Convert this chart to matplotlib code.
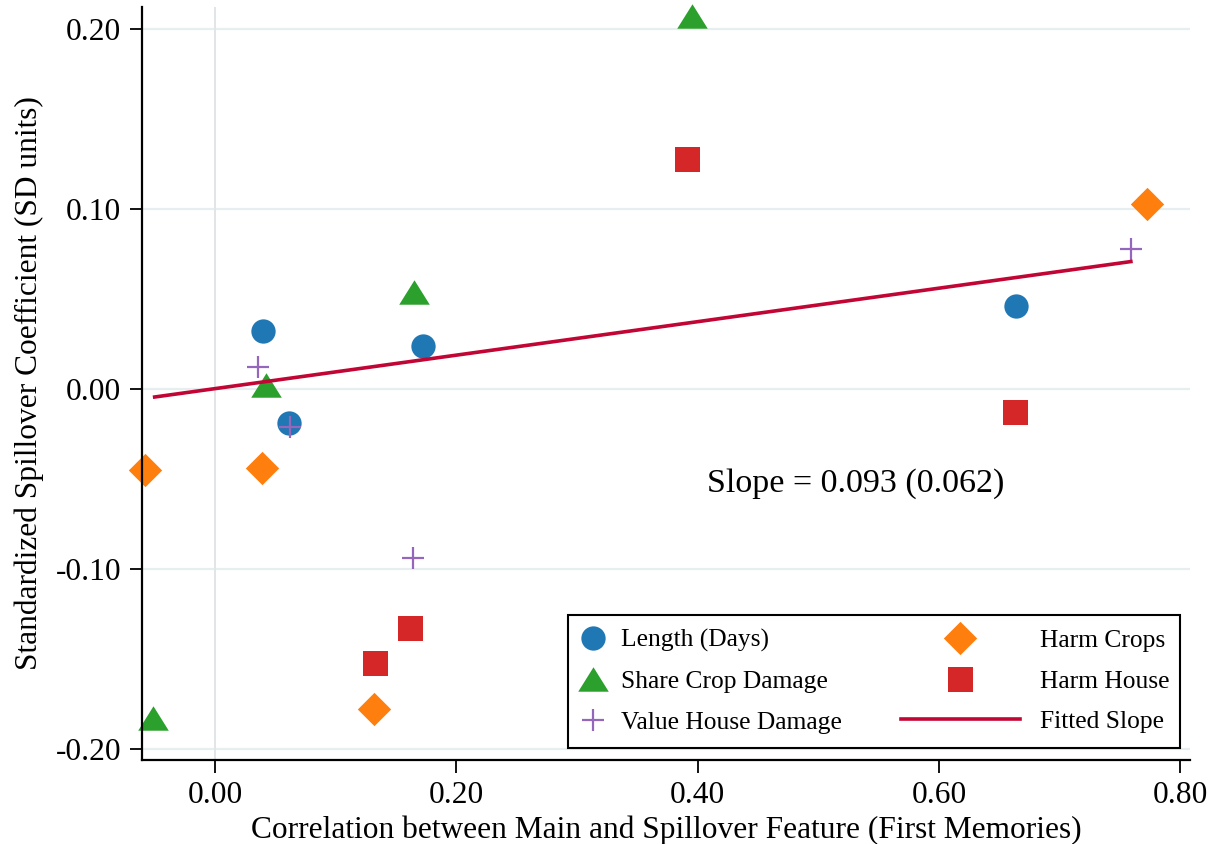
import matplotlib
matplotlib.use("Agg")
import matplotlib.pyplot as plt
from matplotlib.patches import Rectangle

plt.rcParams['font.family'] = ['Liberation Serif', 'DejaVu Serif']
plt.rcParams['axes.unicode_minus'] = False

# Data
len_x = [0.040, 0.061, 0.172, 0.664]
len_y = [0.032, -0.019, 0.024, 0.046]

share_x = [-0.051, 0.042, 0.165, 0.395]
share_y = [-0.183, 0.002, 0.054, 0.207]

value_x = [0.036, 0.062, 0.164, 0.759]
value_y = [0.012, -0.021, -0.094, 0.078]

crops_x = [-0.058, 0.039, 0.132, 0.772]
crops_y = [-0.045, -0.044, -0.178, 0.103]

house_x = [0.133, 0.162, 0.391, 0.663]
house_y = [-0.152, -0.133, 0.128, -0.013]

fit_slope = 0.093
fit_se = 0.062
fit_icpt = 0.0002
fit_x = [-0.050, 0.759]

xticks = [0.0, 0.2, 0.4, 0.6, 0.8]
yticks = [-0.2, -0.1, 0.0, 0.1, 0.2]

tri = [(-1, -0.8), (1, -0.8), (0, 0.8)]
dia = [(0, 1), (1, 0), (0, -1), (-1, 0)]

fig = plt.figure(figsize=(12.17, 8.44), dpi=100)
ax = fig.add_axes([142/1217, 84/844, 1048/1217, 753/844])

# grid / reference line
for yv in yticks:
    ax.axhline(yv, color='#e6eef0', lw=1.6, zorder=0)
ax.axvline(0, color='#e2e5e8', lw=1.4, zorder=0)

ax.plot(len_x, len_y, 'o', ms=17.5, color='#1f77b4', mew=0, ls='none', label='Length (Days)', clip_on=False)
ax.plot(share_x, share_y, marker=tri, ms=22, color='#2ca02c', mew=0, ls='none', label='Share Crop Damage', clip_on=False)
ax.plot(value_x, value_y, '+', ms=16.5, color='#9467bd', mew=1.6, ls='none', label='Value House Damage', clip_on=False)
ax.plot(crops_x, crops_y, marker=dia, ms=24, color='#ff7f0e', mew=0, ls='none', label='Harm Crops', clip_on=False)
ax.plot(house_x, house_y, 's', ms=18, color='#d62728', mew=0, ls='none', label='Harm House', clip_on=False)

fit_y = [fit_icpt + fit_slope * xv for xv in fit_x]
ax.plot(fit_x, fit_y, color='#c10534', lw=2.6, label='Fitted Slope')

ax.text(0.531, -0.0525, 'Slope = %.3f (%.3f)' % (fit_slope, fit_se),
        ha='center', va='center', fontsize=24.5)

ax.set_xlim(-0.0605, 0.808)
ax.set_ylim(-0.2061, 0.2122)
ax.set_xticks(xticks)
ax.set_xticklabels(['%.2f' % v for v in xticks])
ax.set_yticks(yticks)
ax.set_yticklabels(['%.2f' % v for v in yticks])
ax.tick_params(axis='both', direction='out', length=9, width=1.3, labelsize=22.7, pad=6)

for s in ['top', 'right']:
    ax.spines[s].set_visible(False)
for s in ['left', 'bottom']:
    ax.spines[s].set_linewidth(1.6)

ax.set_xlabel('Correlation between Main and Spillover Feature (First Memories)', fontsize=22.6, labelpad=4)
ax.set_ylabel('Standardized Spillover Coefficient (SD units)', fontsize=22.6, labelpad=8)

# legend: Stata-like two-column box
h, l = ax.get_legend_handles_labels()
leg1 = ax.legend(h[:3], l[:3], loc='upper left', bbox_to_anchor=(579/1217, 1 - 629/844),
                 bbox_transform=fig.transFigure, frameon=False, fontsize=18.4,
                 handlelength=1.1, handletextpad=0.55, borderpad=0, borderaxespad=0,
                 labelspacing=0.70)
ax.add_artist(leg1)
leg2 = ax.legend(h[3:], l[3:], loc='upper left', bbox_to_anchor=(901/1217, 1 - 629/844),
                 bbox_transform=fig.transFigure, frameon=False, fontsize=18.4,
                 handlelength=4.65, handletextpad=0.78, borderpad=0, borderaxespad=0,
                 labelspacing=0.70)
ax.add_artist(Rectangle((568/1217, 1 - 748/844), 612/1217, 133/844, transform=fig.transFigure,
                        fill=True, facecolor='white', edgecolor='black', lw=1.5, zorder=4))
leg1.set_zorder(5)
leg2.set_zorder(5)

fig.savefig('out.png', dpi=100)
